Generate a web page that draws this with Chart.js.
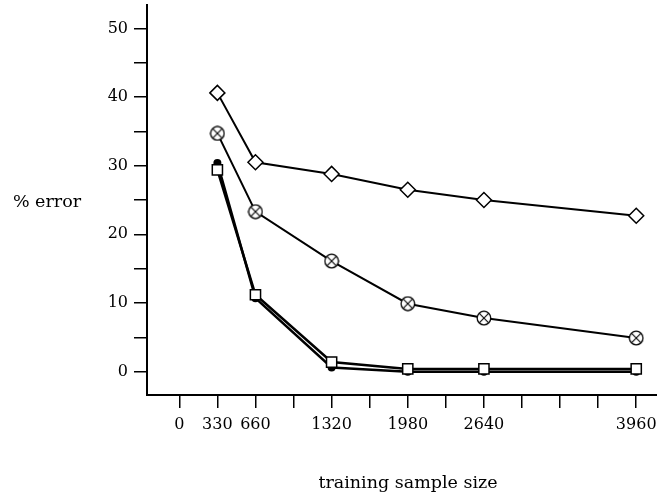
<!DOCTYPE html>
<html>
<head>
<meta charset="utf-8">
<script src="https://cdn.jsdelivr.net/npm/chart.js@4"></script>
<style>
  html, body { margin: 0; padding: 0; background: #fff; }
  #wrap { width: 657px; height: 502px; }
</style>
</head>
<body>
<div id="wrap"><canvas id="errChart" width="657" height="502"></canvas></div>
<script>
'use strict';

// data
var sampleSizes = [330, 660, 1320, 1980, 2640, 3960];
var diamondErr = [40.6, 30.5, 28.8, 26.5, 25.0, 22.7];
var crossErr = [34.7, 23.3, 16.1, 9.9, 7.8, 4.9];
var squareErr = [29.4, 11.2, 1.4, 0.4, 0.4, 0.4];
var dotErr = [30.4, 10.7, 0.6, 0, 0, 0];

var xTicks = [0, 330, 660, 990, 1320, 1650, 1980, 2310, 2640, 2970, 3300, 3630, 3960];
var xTickLabels = [0, 330, 660, 1320, 1980, 2640, 3960];
var yTicks = [0, 5, 10, 15, 20, 25, 30, 35, 40, 45, 50];
var yTickLabels = [0, 10, 20, 30, 40, 50];

var font = '"DejaVu Serif", "Liberation Serif", serif';

function toPoints(values) {
  var pts = [];
  for (var i = 0; i < sampleSizes.length; i++) {
    pts.push({ x: sampleSizes[i], y: values[i] });
  }
  return pts;
}

// circle with an x inside
var crossMark = document.createElement('canvas');
crossMark.width = 16;
crossMark.height = 16;
var c = crossMark.getContext('2d');
c.fillStyle = '#fff';
c.strokeStyle = '#000';
c.lineWidth = 1.3;
c.beginPath();
c.arc(8, 8, 6.8, 0, Math.PI * 2);
c.fill();
c.stroke();
c.lineWidth = 1.1;
c.beginPath();
c.moveTo(8 - 4.8, 8 - 4.8);
c.lineTo(8 + 4.8, 8 + 4.8);
c.moveTo(8 + 4.8, 8 - 4.8);
c.lineTo(8 - 4.8, 8 + 4.8);
c.stroke();

var titles = {
  id: 'titles',
  afterDraw: function(chart) {
    var ctx = chart.ctx;
    ctx.save();
    ctx.fillStyle = '#000';
    ctx.font = '17.5px ' + font;
    ctx.textAlign = 'center';
    ctx.textBaseline = 'middle';
    ctx.fillText('% error', 47, 202);
    ctx.fillText('training sample size', 408, 483);
    ctx.restore();
  }
};

new Chart(document.getElementById('errChart'), {
  type: 'scatter',
  data: {
    datasets: [
      {
        label: 'diamond',
        data: toPoints(diamondErr),
        showLine: true,
        borderColor: '#000',
        borderWidth: 2,
        pointStyle: 'rectRot',
        pointRadius: 7.5,
        pointBorderWidth: 1.5,
        pointBackgroundColor: '#fff',
        pointBorderColor: '#000'
      },
      {
        label: 'crossed circle',
        data: toPoints(crossErr),
        showLine: true,
        borderColor: '#000',
        borderWidth: 2,
        pointStyle: crossMark,
        pointRadius: 7
      },
      {
        label: 'square',
        data: toPoints(squareErr),
        showLine: true,
        borderColor: '#000',
        borderWidth: 2.5,
        pointStyle: 'rect',
        pointRadius: 7.2,
        pointBorderWidth: 1.5,
        pointBackgroundColor: '#fff',
        pointBorderColor: '#000'
      },
      {
        label: 'dot',
        data: toPoints(dotErr),
        showLine: true,
        borderColor: '#000',
        borderWidth: 2.5,
        pointStyle: 'circle',
        pointRadius: 4,
        pointBorderWidth: 0,
        pointBackgroundColor: '#000'
      }
    ]
  },
  options: {
    responsive: false,
    animation: false,
    layout: { autoPadding: false, padding: { top: 5, left: 0, right: 0, bottom: 0 } },
    plugins: {
      legend: { display: false },
      tooltip: { enabled: false }
    },
    scales: {
      x: {
        type: 'linear',
        min: -280,
        max: 4140,
        afterFit: function(scale) {
          scale.height = 107;
          scale.paddingLeft = 0;
          scale.paddingRight = 0;
        },
        afterBuildTicks: function(scale) {
          scale.ticks = xTicks.map(function(v) { return { value: v }; });
        },
        ticks: {
          autoSkip: false,
          maxRotation: 0,
          padding: 7,
          color: '#000',
          font: { family: font, size: 16 },
          callback: function(v) { return xTickLabels.indexOf(v) >= 0 ? String(v) : ''; }
        },
        grid: { drawOnChartArea: false, drawTicks: true, tickLength: 13, color: '#000', lineWidth: 1.5 },
        border: { display: true, color: '#000', width: 2 }
      },
      y: {
        type: 'linear',
        min: -3.4,
        max: 53.4,
        afterFit: function(scale) {
          scale.width = 147;
          scale.paddingTop = 0;
          scale.paddingBottom = 0;
        },
        afterBuildTicks: function(scale) {
          scale.ticks = yTicks.map(function(v) { return { value: v }; });
        },
        ticks: {
          autoSkip: false,
          padding: 6,
          color: '#000',
          font: { family: font, size: 16 },
          callback: function(v) { return yTickLabels.indexOf(v) >= 0 ? String(v) : ''; }
        },
        grid: { drawOnChartArea: false, drawTicks: true, tickLength: 13, color: '#000', lineWidth: 1.5 },
        border: { display: true, color: '#000', width: 2 }
      }
    }
  },
  plugins: [titles]
});
</script>
</body>
</html>
